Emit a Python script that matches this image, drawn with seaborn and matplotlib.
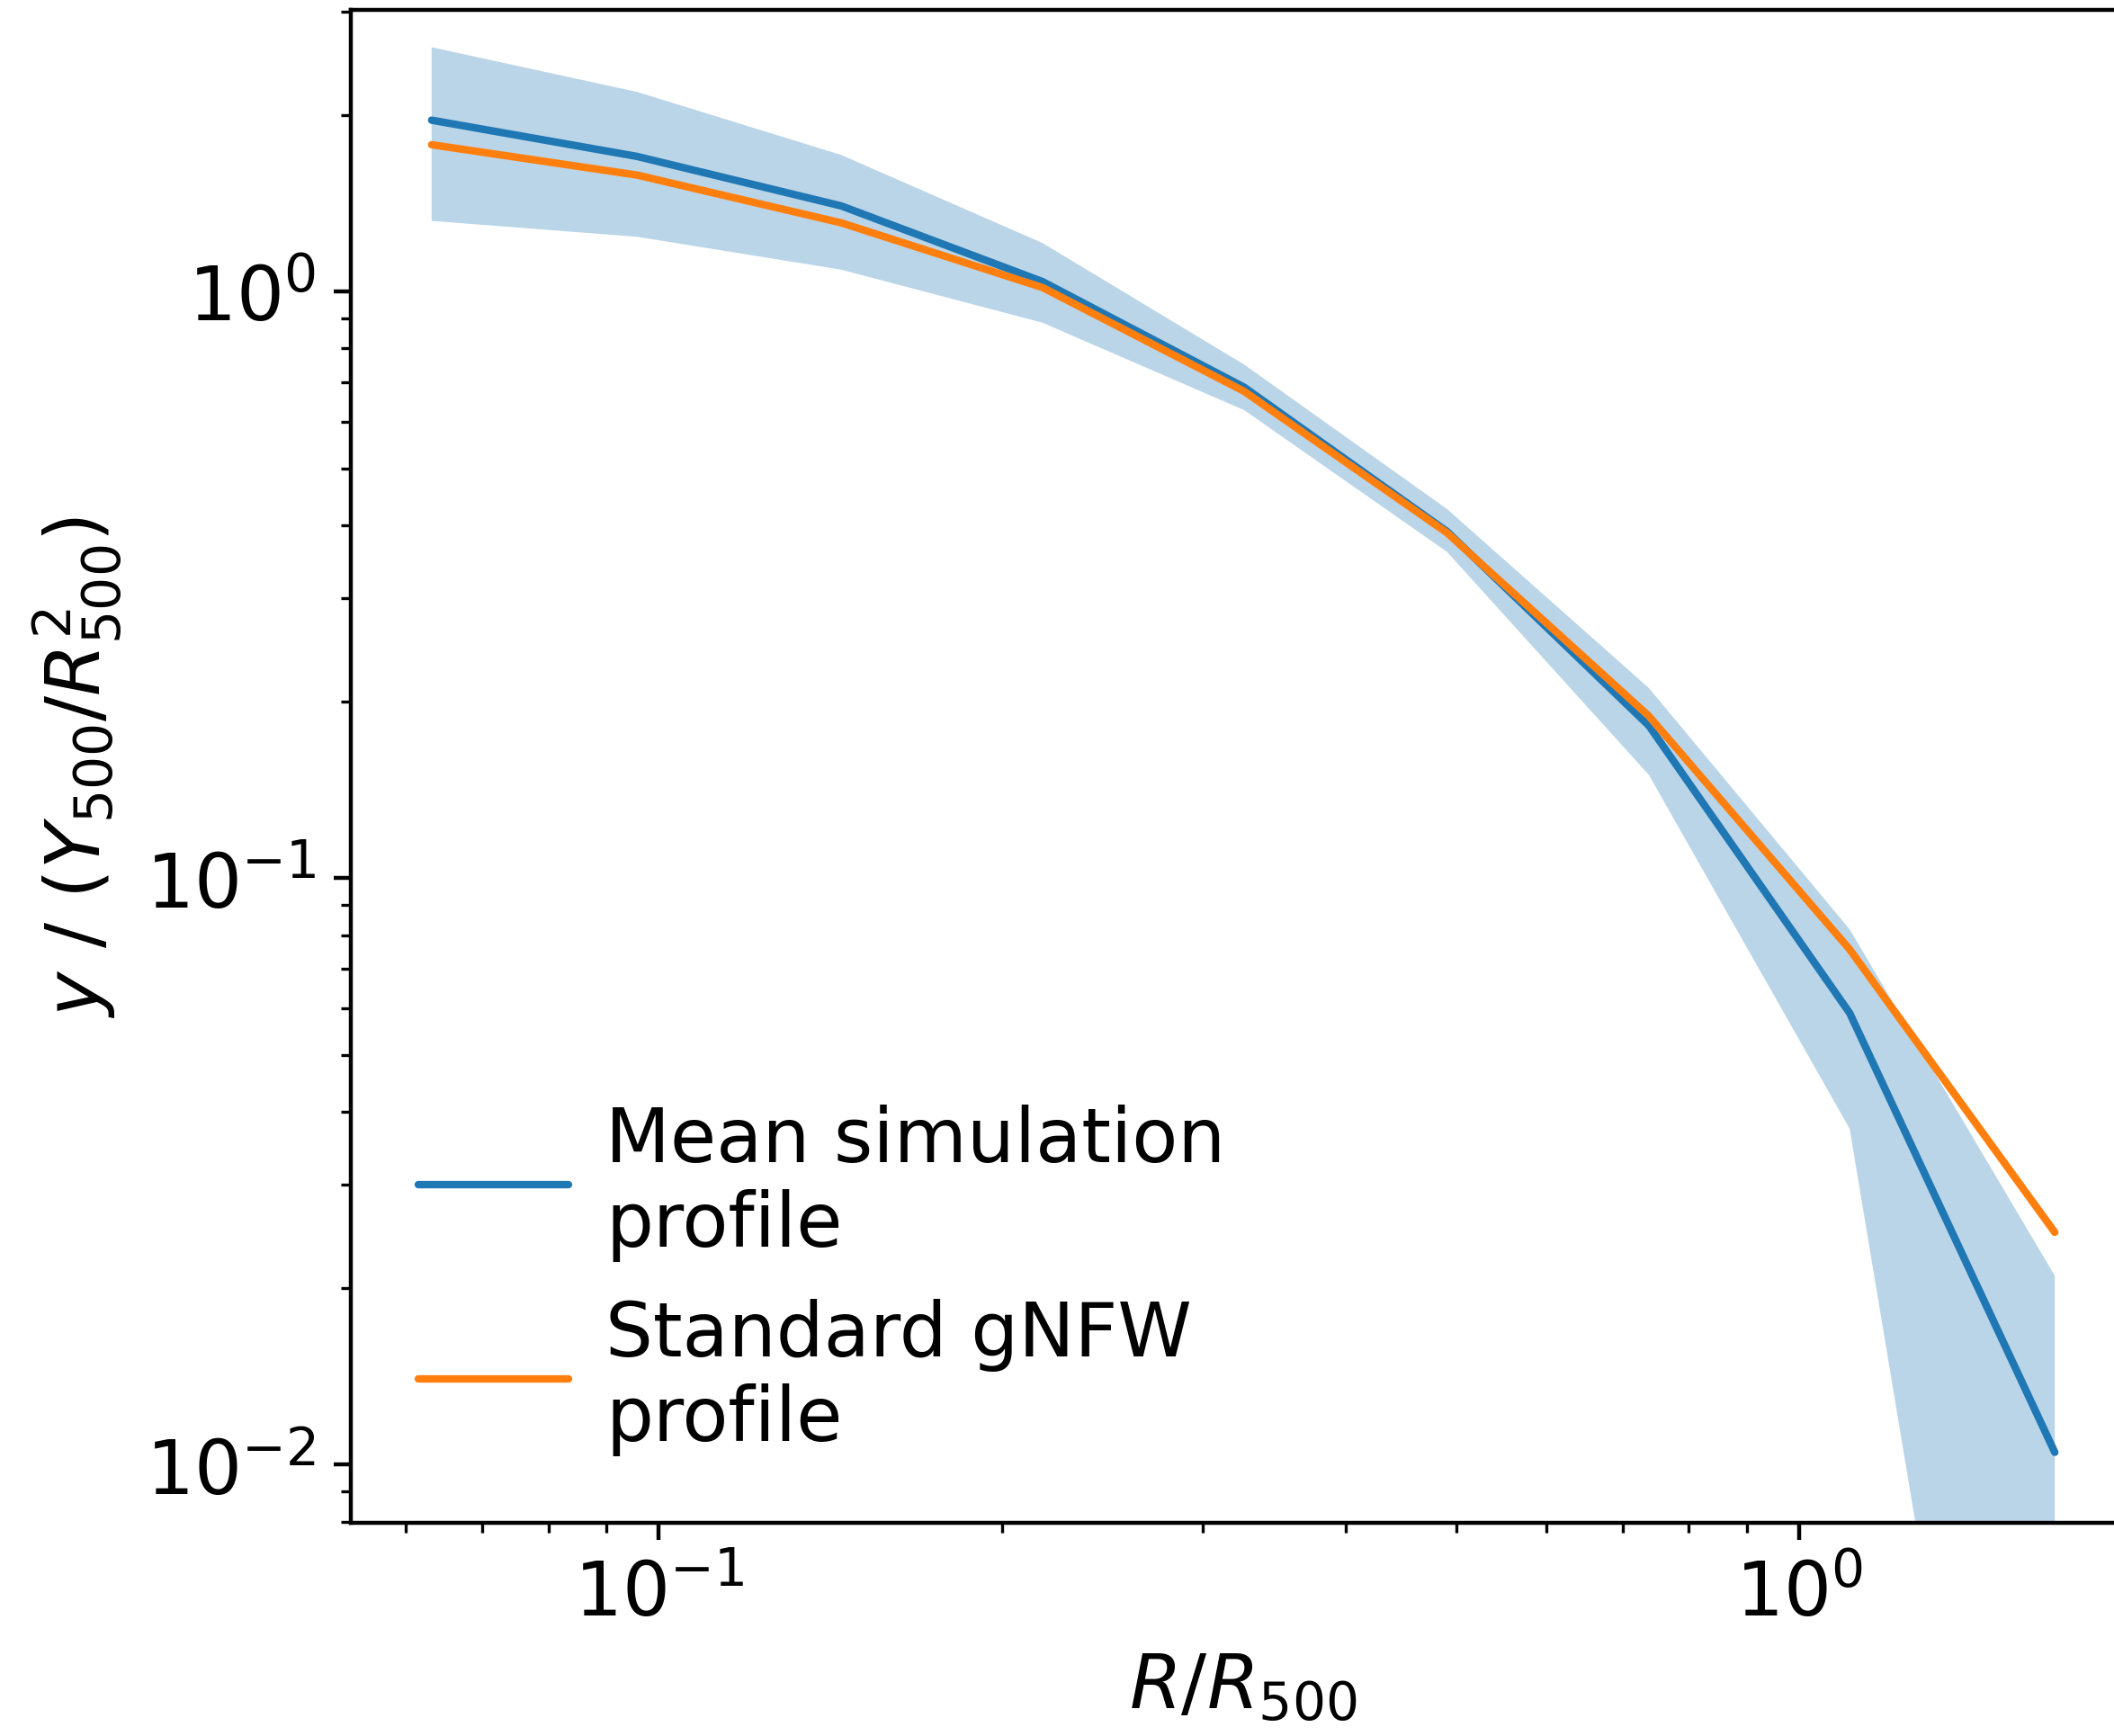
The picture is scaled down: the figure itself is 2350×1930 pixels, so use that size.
import numpy as np
import pandas as pd
import matplotlib
matplotlib.use("Agg")
import matplotlib.pyplot as plt
import seaborn as sns

# radial bins (R/R500)
r_bins = [0.0632, 0.0957, 0.1445, 0.217, 0.326, 0.491, 0.738, 1.107, 1.675]

# mean simulation profile and its scatter band
sim_mean = [1.96, 1.70, 1.40, 1.04, 0.687, 0.390, 0.182, 0.0589, 0.0105]
sim_upper = [2.61, 2.19, 1.71, 1.21, 0.751, 0.426, 0.211, 0.0818, 0.0210]
sim_lower = [1.32, 1.24, 1.09, 0.885, 0.628, 0.360, 0.150, 0.0374, 0.0003]

# standard gNFW profile
gnfw = [1.78, 1.58, 1.31, 1.016, 0.676, 0.388, 0.189, 0.0756, 0.0249]

labels = ["Mean simulation\nprofile", "Standard gNFW\nprofile"]

sns.set_style("ticks", {"axes.edgecolor": "black", "text.color": "black",
                        "axes.labelcolor": "black", "xtick.color": "black",
                        "ytick.color": "black"})
plt.rcParams["font.family"] = ["DejaVu Sans"]
plt.rcParams["font.size"] = 15

df = pd.DataFrame({
    "r": r_bins * 2,
    "y": sim_mean + gnfw,
    "profile": [labels[0]] * len(r_bins) + [labels[1]] * len(r_bins),
})

fig = plt.figure(figsize=(5.875, 4.8275), dpi=400)
ax = fig.add_axes([0.166, 0.1227, 0.844, 0.871])

ax.fill_between(r_bins, sim_lower, sim_upper, color="#1f77b4", alpha=0.3, lw=0)
sns.lineplot(data=df, x="r", y="y", hue="profile",
             palette=["#1f77b4", "#ff7f0e"], lw=1.5, ax=ax)

ax.set_xscale("log")
ax.set_yscale("log")
ax.set_xlim(0.0537, 1.97)
ax.set_ylim(0.00796, 3.02)
ax.set_xlabel(r"$R/R_{500}$")
ax.set_ylabel(r"$y\ /\ (Y_{500}/R_{500}^2)$")
ax.tick_params(which="both", top=False, right=False)

ax.legend(loc="lower left", frameon=False, fontsize=15, handletextpad=0.5)

fig.savefig("out.png", dpi=400)
